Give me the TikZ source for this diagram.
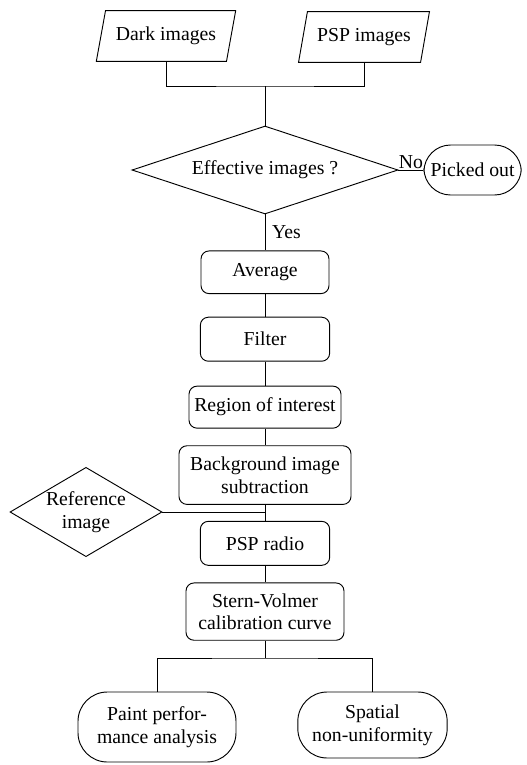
\documentclass[tikz,border=0pt]{standalone}
\usepackage{fontspec}
\setmainfont{Liberation Serif}
\usetikzlibrary{shapes.geometric, positioning}

\begin{document}
\begin{tikzpicture}[
    x=0.75pt, y=0.75pt, line width=0.7pt,
    every node/.style  = {font=\fontsize{14.8}{17}\selectfont, align=center},
    datanode/.style    = {trapezium, trapezium left angle=67, trapezium right angle=113,
                          trapezium stretches=true, draw, inner sep=0pt, minimum height=38pt},
    decisionnode/.style = {diamond, draw, inner sep=0pt},
    stepnode/.style    = {rectangle, rounded corners=6pt, draw, inner sep=0pt},
    endnode/.style     = {rectangle, rounded corners=20pt, draw, inner sep=0pt},
]
    \useasboundingbox (0,0) rectangle (526,-765);

    %Nodes
    \node[datanode, minimum width=105pt] (dark) at (166,-36) {Dark images};
    \node[datanode, minimum width=99pt]  (psp)  at (364,-37) {PSP images};
    \node[decisionnode, aspect=3, minimum width=199.5pt, minimum height=66pt]
                                         (check) at (265,-170) {Effective images ?};
    \node[endnode, minimum width=73pt, minimum height=37.5pt]
                                         (picked) [right=18.75pt of check] {Picked out};
    \node[stepnode, minimum width=96pt, minimum height=32pt]
                                         (average) [below=27pt of check] {Average};
    \node[stepnode, minimum width=97pt, minimum height=33pt]
                                         (filter) [below=17pt of average] {Filter};
    \node[stepnode, minimum width=114pt, minimum height=31.5pt]
                                         (roi) [below=18pt of filter] {Region of interest};
    \node[stepnode, minimum width=129pt, minimum height=44pt]
                                         (bgsub) [below=12.5pt of roi] {Background image\\subtraction};
    \node[stepnode, minimum width=97pt, minimum height=33pt]
                                         (ratio) [below=12pt of bgsub] {PSP radio};
    \node[stepnode, minimum width=118.5pt, minimum height=43pt]
                                         (stern) [below=12.5pt of ratio] {Stern-Volmer\\calibration curve};
    \node[decisionnode, aspect=1.7, minimum width=114pt, minimum height=67pt]
                                         (refimg) at (86,-512) {Reference\\image};
    \node[endnode, rounded corners=22pt, minimum width=118.5pt, minimum height=52.5pt]
                                         (paint) at (157,-727) {Paint perfor-\\mance analysis};
    \node[endnode, rounded corners=22pt, minimum width=112pt, minimum height=49.5pt]
                                         (spatial) at (372.5,-725) {Spatial\\non-uniformity};

    \coordinate (merge) at (265,-86);
    \coordinate (split) at (265,-658);

    %Lines
    \draw (dark.south) |- (merge) -| (psp.south);
    \draw (merge) -- (check.north);
    \draw (check.east) -- node[above, inner sep=1pt] {No} (picked.west);
    \draw (check.south) -- node[right, inner sep=5pt] {Yes} (average.north);
    \draw (average) -- (filter);
    \draw (filter) -- (roi);
    \draw (roi) -- (bgsub);
    \draw (bgsub) -- (ratio);
    \draw (refimg.east) -- (refimg.east -| ratio.north);
    \draw (ratio) -- (stern);
    \draw (stern.south) -- (split);
    \draw (paint.north) |- (split) -| (spatial.north);
\end{tikzpicture}
\end{document}
